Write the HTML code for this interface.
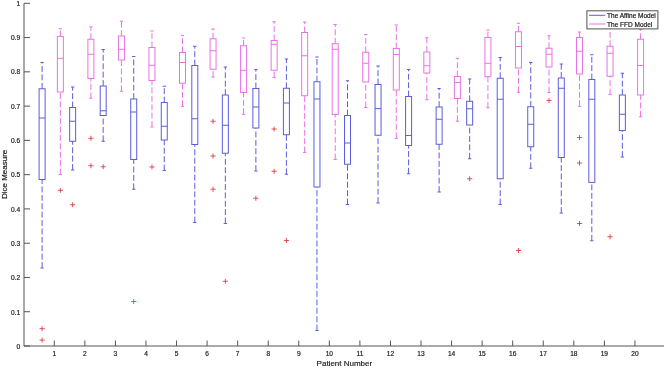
<!DOCTYPE html>
<html lang="en"><head><meta charset="utf-8"><title>Dice Measure box plot</title>
<style>html,body{margin:0;padding:0;background:#fff}body{width:666px;height:368px;overflow:hidden}svg{display:block}</style>
</head><body>
<svg width="666" height="368" viewBox="0 0 666 368">
<g stroke="#5c5ce0" stroke-width="1.0" fill="none"><path d="M42.1 88.75V62.5M42.1 268V179.5" stroke-dasharray="5.9 2.5"/><path d="M40.45 62.5H43.75M40.45 268H43.75"/><rect x="39.1" y="88.75" width="6" height="90.75"/><path d="M39.1 118H45.1"/></g>
<g stroke="#e972e5" stroke-width="1.0" fill="none"><path d="M60.35 36.4V28.75M60.35 174.5V92" stroke-dasharray="5.9 2.5"/><path d="M58.7 28.75H62M58.7 174.5H62"/><rect x="57.35" y="36.4" width="6" height="55.6"/><path d="M57.35 58.3H63.35"/></g>
<g stroke="#5c5ce0" stroke-width="1.0" fill="none"><path d="M72.64 107.5V87M72.64 170V141.25" stroke-dasharray="5.9 2.5"/><path d="M70.99 87H74.29M70.99 170H74.29"/><rect x="69.64" y="107.5" width="6" height="33.75"/><path d="M69.64 121.25H75.64"/></g>
<g stroke="#e972e5" stroke-width="1.0" fill="none"><path d="M90.89 39.25V26.8M90.89 98.25V78.5" stroke-dasharray="5.9 2.5"/><path d="M89.24 26.8H92.54M89.24 98.25H92.54"/><rect x="87.89" y="39.25" width="6" height="39.25"/><path d="M87.89 54.25H93.89"/></g>
<g stroke="#5c5ce0" stroke-width="1.0" fill="none"><path d="M103.18 86V49.5M103.18 141.25V115.5" stroke-dasharray="5.9 2.5"/><path d="M101.53 49.5H104.83M101.53 141.25H104.83"/><rect x="100.18" y="86" width="6" height="29.5"/><path d="M100.18 110.75H106.18"/></g>
<g stroke="#e972e5" stroke-width="1.0" fill="none"><path d="M121.43 36V21.25M121.43 91.25V60" stroke-dasharray="5.9 2.5"/><path d="M119.78 21.25H123.08M119.78 91.25H123.08"/><rect x="118.43" y="36" width="6" height="24"/><path d="M118.43 49.25H124.43"/></g>
<g stroke="#5c5ce0" stroke-width="1.0" fill="none"><path d="M133.72 99V56.5M133.72 189.25V159.5" stroke-dasharray="5.9 2.5"/><path d="M132.07 56.5H135.37M132.07 189.25H135.37"/><rect x="130.72" y="99" width="6" height="60.5"/><path d="M130.72 112H136.72"/></g>
<g stroke="#e972e5" stroke-width="1.0" fill="none"><path d="M151.97 47.5V31M151.97 127V80.5" stroke-dasharray="5.9 2.5"/><path d="M150.32 31H153.62M150.32 127H153.62"/><rect x="148.97" y="47.5" width="6" height="33"/><path d="M148.97 65.25H154.97"/></g>
<g stroke="#5c5ce0" stroke-width="1.0" fill="none"><path d="M164.26 102.5V86.25M164.26 170.5V140" stroke-dasharray="5.9 2.5"/><path d="M162.61 86.25H165.91M162.61 170.5H165.91"/><rect x="161.26" y="102.5" width="6" height="37.5"/><path d="M161.26 126.25H167.26"/></g>
<g stroke="#e972e5" stroke-width="1.0" fill="none"><path d="M182.51 52.5V35.5M182.51 106.25V83.25" stroke-dasharray="5.9 2.5"/><path d="M180.86 35.5H184.16M180.86 106.25H184.16"/><rect x="179.51" y="52.5" width="6" height="30.75"/><path d="M179.51 62.5H185.51"/></g>
<g stroke="#5c5ce0" stroke-width="1.0" fill="none"><path d="M194.8 65.5V46.25M194.8 222.5V144.5" stroke-dasharray="5.9 2.5"/><path d="M193.15 46.25H196.45M193.15 222.5H196.45"/><rect x="191.8" y="65.5" width="6" height="79"/><path d="M191.8 118.75H197.8"/></g>
<g stroke="#e972e5" stroke-width="1.0" fill="none"><path d="M213.05 38.75V29M213.05 77V69.25" stroke-dasharray="5.9 2.5"/><path d="M211.4 29H214.7M211.4 77H214.7"/><rect x="210.05" y="38.75" width="6" height="30.5"/><path d="M210.05 50.75H216.05"/></g>
<g stroke="#5c5ce0" stroke-width="1.0" fill="none"><path d="M225.34 95V67M225.34 223.5V153.25" stroke-dasharray="5.9 2.5"/><path d="M223.69 67H226.99M223.69 223.5H226.99"/><rect x="222.34" y="95" width="6" height="58.25"/><path d="M222.34 125.25H228.34"/></g>
<g stroke="#e972e5" stroke-width="1.0" fill="none"><path d="M243.59 45.75V38M243.59 114.25V92.5" stroke-dasharray="5.9 2.5"/><path d="M241.94 38H245.24M241.94 114.25H245.24"/><rect x="240.59" y="45.75" width="6" height="46.75"/><path d="M240.59 70.25H246.59"/></g>
<g stroke="#5c5ce0" stroke-width="1.0" fill="none"><path d="M255.88 88.5V69.5M255.88 171V128" stroke-dasharray="5.9 2.5"/><path d="M254.23 69.5H257.53M254.23 171H257.53"/><rect x="252.88" y="88.5" width="6" height="39.5"/><path d="M252.88 107H258.88"/></g>
<g stroke="#e972e5" stroke-width="1.0" fill="none"><path d="M274.13 40.5V21.75M274.13 77.5V70.25" stroke-dasharray="5.9 2.5"/><path d="M272.48 21.75H275.78M272.48 77.5H275.78"/><rect x="271.13" y="40.5" width="6" height="29.75"/><path d="M271.13 44.25H277.13"/></g>
<g stroke="#5c5ce0" stroke-width="1.0" fill="none"><path d="M286.42 88.25V59M286.42 174.25V134.75" stroke-dasharray="5.9 2.5"/><path d="M284.77 59H288.07M284.77 174.25H288.07"/><rect x="283.42" y="88.25" width="6" height="46.5"/><path d="M283.42 103H289.42"/></g>
<g stroke="#e972e5" stroke-width="1.0" fill="none"><path d="M304.67 32.5V22M304.67 152.5V95.75" stroke-dasharray="5.9 2.5"/><path d="M303.02 22H306.32M303.02 152.5H306.32"/><rect x="301.67" y="32.5" width="6" height="63.25"/><path d="M301.67 55.75H307.67"/></g>
<g stroke="#5c5ce0" stroke-width="1.0" fill="none"><path d="M316.96 81.75V57M316.96 330.5V187" stroke-dasharray="5.9 2.5"/><path d="M315.31 57H318.61M315.31 330.5H318.61"/><rect x="313.96" y="81.75" width="6" height="105.25"/><path d="M313.96 99H319.96"/></g>
<g stroke="#e972e5" stroke-width="1.0" fill="none"><path d="M335.21 43.75V24.5M335.21 159.5V114.5" stroke-dasharray="5.9 2.5"/><path d="M333.56 24.5H336.86M333.56 159.5H336.86"/><rect x="332.21" y="43.75" width="6" height="70.75"/><path d="M332.21 49.25H338.21"/></g>
<g stroke="#5c5ce0" stroke-width="1.0" fill="none"><path d="M347.5 115.5V80.75M347.5 204.5V164.25" stroke-dasharray="5.9 2.5"/><path d="M345.85 80.75H349.15M345.85 204.5H349.15"/><rect x="344.5" y="115.5" width="6" height="48.75"/><path d="M344.5 143H350.5"/></g>
<g stroke="#e972e5" stroke-width="1.0" fill="none"><path d="M365.75 52.25V34.5M365.75 107.5V82" stroke-dasharray="5.9 2.5"/><path d="M364.1 34.5H367.4M364.1 107.5H367.4"/><rect x="362.75" y="52.25" width="6" height="29.75"/><path d="M362.75 63.25H368.75"/></g>
<g stroke="#5c5ce0" stroke-width="1.0" fill="none"><path d="M378.04 84.5V66M378.04 203V135.25" stroke-dasharray="5.9 2.5"/><path d="M376.39 66H379.69M376.39 203H379.69"/><rect x="375.04" y="84.5" width="6" height="50.75"/><path d="M375.04 108.6H381.04"/></g>
<g stroke="#e972e5" stroke-width="1.0" fill="none"><path d="M396.29 48.5V25M396.29 138.25V90" stroke-dasharray="5.9 2.5"/><path d="M394.64 25H397.94M394.64 138.25H397.94"/><rect x="393.29" y="48.5" width="6" height="41.5"/><path d="M393.29 54.5H399.29"/></g>
<g stroke="#5c5ce0" stroke-width="1.0" fill="none"><path d="M408.58 96.5V69.5M408.58 173.75V145.5" stroke-dasharray="5.9 2.5"/><path d="M406.93 69.5H410.23M406.93 173.75H410.23"/><rect x="405.58" y="96.5" width="6" height="49"/><path d="M405.58 135.5H411.58"/></g>
<g stroke="#e972e5" stroke-width="1.0" fill="none"><path d="M426.83 52V37.75M426.83 99.75V73" stroke-dasharray="5.9 2.5"/><path d="M425.18 37.75H428.48M425.18 99.75H428.48"/><rect x="423.83" y="52" width="6" height="21"/><path d="M423.83 65.75H429.83"/></g>
<g stroke="#5c5ce0" stroke-width="1.0" fill="none"><path d="M439.12 107V88.5M439.12 192V144.25" stroke-dasharray="5.9 2.5"/><path d="M437.47 88.5H440.77M437.47 192H440.77"/><rect x="436.12" y="107" width="6" height="37.25"/><path d="M436.12 119.25H442.12"/></g>
<g stroke="#e972e5" stroke-width="1.0" fill="none"><path d="M457.37 76.5V58.25M457.37 121.25V98.5" stroke-dasharray="5.9 2.5"/><path d="M455.72 58.25H459.02M455.72 121.25H459.02"/><rect x="454.37" y="76.5" width="6" height="22"/><path d="M454.37 82.5H460.37"/></g>
<g stroke="#5c5ce0" stroke-width="1.0" fill="none"><path d="M469.66 101.25V79M469.66 158.75V125" stroke-dasharray="5.9 2.5"/><path d="M468.01 79H471.31M468.01 158.75H471.31"/><rect x="466.66" y="101.25" width="6" height="23.75"/><path d="M466.66 108.75H472.66"/></g>
<g stroke="#e972e5" stroke-width="1.0" fill="none"><path d="M487.91 37.5V30M487.91 107.75V76.75" stroke-dasharray="5.9 2.5"/><path d="M486.26 30H489.56M486.26 107.75H489.56"/><rect x="484.91" y="37.5" width="6" height="39.25"/><path d="M484.91 63.25H490.91"/></g>
<g stroke="#5c5ce0" stroke-width="1.0" fill="none"><path d="M500.2 78.25V57.5M500.2 204.5V178.75" stroke-dasharray="5.9 2.5"/><path d="M498.55 57.5H501.85M498.55 204.5H501.85"/><rect x="497.2" y="78.25" width="6" height="100.5"/><path d="M497.2 99.25H503.2"/></g>
<g stroke="#e972e5" stroke-width="1.0" fill="none"><path d="M518.45 31.75V23.25M518.45 92.25V68" stroke-dasharray="5.9 2.5"/><path d="M516.8 23.25H520.1M516.8 92.25H520.1"/><rect x="515.45" y="31.75" width="6" height="36.25"/><path d="M515.45 46.5H521.45"/></g>
<g stroke="#5c5ce0" stroke-width="1.0" fill="none"><path d="M530.74 106.75V62.5M530.74 168.25V146.75" stroke-dasharray="5.9 2.5"/><path d="M529.09 62.5H532.39M529.09 168.25H532.39"/><rect x="527.74" y="106.75" width="6" height="40"/><path d="M527.74 124.25H533.74"/></g>
<g stroke="#e972e5" stroke-width="1.0" fill="none"><path d="M548.99 48.25V35.75M548.99 92.5V67" stroke-dasharray="5.9 2.5"/><path d="M547.34 35.75H550.64M547.34 92.5H550.64"/><rect x="545.99" y="48.25" width="6" height="18.75"/><path d="M545.99 54.25H551.99"/></g>
<g stroke="#5c5ce0" stroke-width="1.0" fill="none"><path d="M561.28 78V64M561.28 213V157.5" stroke-dasharray="5.9 2.5"/><path d="M559.63 64H562.93M559.63 213H562.93"/><rect x="558.28" y="78" width="6" height="79.5"/><path d="M558.28 88.25H564.28"/></g>
<g stroke="#e972e5" stroke-width="1.0" fill="none"><path d="M579.53 37.5V32M579.53 106.25V74" stroke-dasharray="5.9 2.5"/><path d="M577.88 32H581.18M577.88 106.25H581.18"/><rect x="576.53" y="37.5" width="6" height="36.5"/><path d="M576.53 51.25H582.53"/></g>
<g stroke="#5c5ce0" stroke-width="1.0" fill="none"><path d="M591.82 79.5V54.75M591.82 240.75V182.4" stroke-dasharray="5.9 2.5"/><path d="M590.17 54.75H593.47M590.17 240.75H593.47"/><rect x="588.82" y="79.5" width="6" height="102.9"/><path d="M588.82 99.25H594.82"/></g>
<g stroke="#e972e5" stroke-width="1.0" fill="none"><path d="M610.07 46.25V26M610.07 94.5V76.25" stroke-dasharray="5.9 2.5"/><path d="M608.42 26H611.72M608.42 94.5H611.72"/><rect x="607.07" y="46.25" width="6" height="30"/><path d="M607.07 53.25H613.07"/></g>
<g stroke="#5c5ce0" stroke-width="1.0" fill="none"><path d="M622.36 95V73.25M622.36 157V130.5" stroke-dasharray="5.9 2.5"/><path d="M620.71 73.25H624.01M620.71 157H624.01"/><rect x="619.36" y="95" width="6" height="35.5"/><path d="M619.36 114.25H625.36"/></g>
<g stroke="#e972e5" stroke-width="1.0" fill="none"><path d="M640.61 39.25V29.6M640.61 116.75V95" stroke-dasharray="5.9 2.5"/><path d="M638.96 29.6H642.26M638.96 116.75H642.26"/><rect x="637.61" y="39.25" width="6" height="55.75"/><path d="M637.61 65.5H643.61"/></g>
<path d="M39.5 328.65H44.7M42.1 326.15V331.15M39.5 340.1H44.7M42.1 337.6V342.6M57.75 190.3H62.95M60.35 187.8V192.8M70.04 204.75H75.24M72.64 202.25V207.25M88.29 138.25H93.49M90.89 135.75V140.75M88.29 165.75H93.49M90.89 163.25V168.25M100.58 166.75H105.78M103.18 164.25V169.25M131.12 301.5H136.32M133.72 299V304M149.37 167H154.57M151.97 164.5V169.5M210.45 121.25H215.65M213.05 118.75V123.75M210.45 156H215.65M213.05 153.5V158.5M210.45 189.25H215.65M213.05 186.75V191.75M222.74 281.25H227.94M225.34 278.75V283.75M253.28 198.25H258.48M255.88 195.75V200.75M271.53 129H276.73M274.13 126.5V131.5M271.53 171.25H276.73M274.13 168.75V173.75M283.82 240.5H289.02M286.42 238V243M467.06 178.75H472.26M469.66 176.25V181.25M515.85 250.5H521.05M518.45 248V253M546.39 100.5H551.59M548.99 98V103M576.93 137.5H582.13M579.53 135V140M576.93 163H582.13M579.53 160.5V165.5M576.93 223.5H582.13M579.53 221V226M607.47 236.75H612.67M610.07 234.25V239.25" stroke="#e02834" stroke-width="0.8" fill="none"/>
<path d="M24.0 3.3V346.0H664M24.0 346H30.0M24.0 311.73H30.0M24.0 277.46H30.0M24.0 243.19H30.0M24.0 208.92H30.0M24.0 174.65H30.0M24.0 140.38H30.0M24.0 106.11H30.0M24.0 71.84H30.0M24.0 37.57H30.0M24.0 3.3H30.0M54.3 346.0V340.5M84.86 346.0V340.5M115.42 346.0V340.5M145.98 346.0V340.5M176.54 346.0V340.5M207.1 346.0V340.5M237.66 346.0V340.5M268.22 346.0V340.5M298.78 346.0V340.5M329.34 346.0V340.5M359.9 346.0V340.5M390.46 346.0V340.5M421.02 346.0V340.5M451.58 346.0V340.5M482.14 346.0V340.5M512.7 346.0V340.5M543.26 346.0V340.5M573.82 346.0V340.5M604.38 346.0V340.5M634.94 346.0V340.5" stroke="#555" stroke-width="1" fill="none"/>
<g font-family="Liberation Sans, Arial, sans-serif" font-size="6.6" fill="#1a1a1a" stroke="#1a1a1a" stroke-width="0.18"><text x="20.1" y="348.95" text-anchor="end">0</text><text x="20.1" y="314.63" text-anchor="end">0.1</text><text x="20.1" y="280.31" text-anchor="end">0.2</text><text x="20.1" y="245.99" text-anchor="end">0.3</text><text x="20.1" y="211.67" text-anchor="end">0.4</text><text x="20.1" y="177.35" text-anchor="end">0.5</text><text x="20.1" y="143.03" text-anchor="end">0.6</text><text x="20.1" y="108.71" text-anchor="end">0.7</text><text x="20.1" y="74.39" text-anchor="end">0.8</text><text x="20.1" y="40.07" text-anchor="end">0.9</text><text x="20.1" y="5.75" text-anchor="end">1</text><text x="54.3" y="356.3" text-anchor="middle">1</text><text x="84.86" y="356.3" text-anchor="middle">2</text><text x="115.42" y="356.3" text-anchor="middle">3</text><text x="145.98" y="356.3" text-anchor="middle">4</text><text x="176.54" y="356.3" text-anchor="middle">5</text><text x="207.1" y="356.3" text-anchor="middle">6</text><text x="237.66" y="356.3" text-anchor="middle">7</text><text x="268.22" y="356.3" text-anchor="middle">8</text><text x="298.78" y="356.3" text-anchor="middle">9</text><text x="329.34" y="356.3" text-anchor="middle">10</text><text x="359.9" y="356.3" text-anchor="middle">11</text><text x="390.46" y="356.3" text-anchor="middle">12</text><text x="421.02" y="356.3" text-anchor="middle">13</text><text x="451.58" y="356.3" text-anchor="middle">14</text><text x="482.14" y="356.3" text-anchor="middle">15</text><text x="512.7" y="356.3" text-anchor="middle">16</text><text x="543.26" y="356.3" text-anchor="middle">17</text><text x="573.82" y="356.3" text-anchor="middle">18</text><text x="604.38" y="356.3" text-anchor="middle">19</text><text x="634.94" y="356.3" text-anchor="middle">20</text></g><g font-family="Liberation Sans, Arial, sans-serif" font-size="8" fill="#1a1a1a" stroke="#1a1a1a" stroke-width="0.18"><text x="344.4" y="365.5" text-anchor="middle">Patient Number</text><text transform="translate(7 174.4) rotate(-90)" text-anchor="middle">Dice Measure</text></g>
<rect x="586.9" y="10.8" width="71" height="18.1" fill="#fff" stroke="#505050" stroke-width="1"/><path d="M589 15.3H605.2" stroke="#5c5ce0" stroke-width="1"/><path d="M589 24H605.2" stroke="#e972e5" stroke-width="1"/><g font-family="Liberation Sans, Arial, sans-serif" font-size="6.5" fill="#111" stroke="#111" stroke-width="0.18"><text x="607.1" y="18.1">The Affine Model</text><text x="607.1" y="26.7">The FFD Model</text></g>
</svg>
</body></html>
